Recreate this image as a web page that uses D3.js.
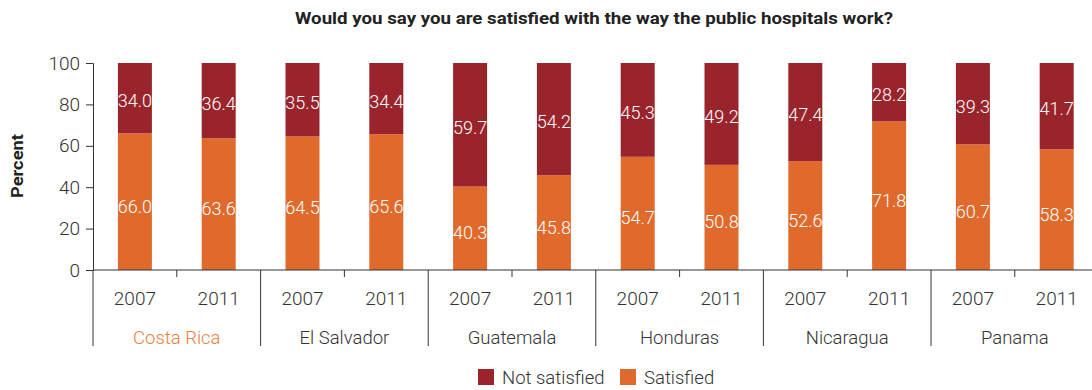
<!DOCTYPE html>
<html><head><meta charset="utf-8">
<script src="https://cdn.jsdelivr.net/npm/d3@7"></script>
<style>body{margin:0;background:#fff}svg{display:block}</style>
</head><body>
<svg id="c" width="1092" height="390"></svg>
<script>
const countries = ["Costa Rica","El Salvador","Guatemala","Honduras","Nicaragua","Panama"];
const years = ["2007","2011"];
const satisfied = [66.0,63.6,64.5,65.6,40.3,45.8,54.7,50.8,52.6,71.8,60.7,58.3];
const notSatisfied = [34.0,36.4,35.5,34.4,59.7,54.2,45.3,49.2,47.4,28.2,39.3,41.7];
const yTicks = [0,20,40,60,80,100];
const seriesNames = ["Not satisfied","Satisfied"];
const colors = {"Not satisfied":"#9a242c","Satisfied":"#e06a2c"};

const font = "Roboto, 'Noto Sans', sans-serif";
const svg = d3.select("#c");
const x0 = 93, groupW = 167.6, y0 = 270, yTop = 63;
const xC = d3.scaleBand().domain(countries).range([x0, x0 + groupW*countries.length]).padding(0);
const xY = d3.scaleBand().domain(years).range([0, xC.bandwidth()]).padding(0);
const y = d3.scaleLinear().domain([0,100]).range([y0, yTop]);
const barW = 34;

const rows = [];
countries.forEach((c,i)=>years.forEach((yr,j)=>{
  const k = i*2+j;
  rows.push({c, yr, sat: satisfied[k], not: notSatisfied[k]});
}));

// title
svg.append("text").attr("x",594).attr("y",24).attr("text-anchor","middle")
  .attr("font-family",font).attr("font-weight","bold").attr("font-size",17).attr("fill","#222")
  .attr("textLength",598).attr("lengthAdjust","spacingAndGlyphs")
  .text("Would you say you are satisfied with the way the public hospitals work?");

// bars
const g = svg.append("g");
rows.forEach(r=>{
  const cx = xC(r.c) + xY(r.yr) + xY.bandwidth()/2;
  g.append("rect").attr("x",cx-barW/2).attr("width",barW)
    .attr("y",y(r.sat)).attr("height",y(0)-y(r.sat)).attr("fill",colors["Satisfied"]);
  g.append("rect").attr("x",cx-barW/2).attr("width",barW)
    .attr("y",y(r.sat+r.not)).attr("height",y(r.sat)-y(r.sat+r.not)).attr("fill",colors["Not satisfied"]);
  g.append("text").attr("x",cx).attr("y",(y(0)+y(r.sat))/2+11).attr("text-anchor","middle")
    .attr("font-family",font).attr("font-weight",300).attr("font-size",18).attr("fill","#fff")
    .text(r.sat.toFixed(1));
  g.append("text").attr("x",cx).attr("y",(y(r.sat)+y(r.sat+r.not))/2+9).attr("text-anchor","middle")
    .attr("font-family",font).attr("font-weight",300).attr("font-size",18).attr("fill","#fff")
    .text(r.not.toFixed(1));
});

// y axis
const ya = svg.append("g").attr("transform",`translate(${x0},0)`)
  .call(d3.axisLeft(y).tickValues(yTicks).tickSize(7).tickPadding(6));
ya.select(".domain").attr("stroke","#333");
ya.selectAll(".tick line").attr("stroke","#333");
ya.selectAll("text").attr("font-family",font).attr("font-size",19).attr("fill","#333").attr("font-weight",300);

svg.append("text").attr("transform","translate(23,166) rotate(-90)").attr("text-anchor","middle")
  .attr("font-family",font).attr("font-weight","bold").attr("font-size",17).attr("fill","#222")
  .attr("textLength",64).attr("lengthAdjust","spacingAndGlyphs").text("Percent");

// x axis line
svg.append("line").attr("x1",x0).attr("x2",1092).attr("y1",y0).attr("y2",y0).attr("stroke","#333");
// group separators
countries.forEach(c=>{
  svg.append("line").attr("x1",xC(c)).attr("x2",xC(c)).attr("y1",y0).attr("y2",346).attr("stroke","#333");
  svg.append("line").attr("x1",xC(c)+xY("2011")).attr("x2",xC(c)+xY("2011")).attr("y1",y0).attr("y2",277).attr("stroke","#333");
  years.forEach(yr=>{
    svg.append("text").attr("x",xC(c)+xY(yr)+xY.bandwidth()/2).attr("y",305).attr("text-anchor","middle")
      .attr("font-family",font).attr("font-weight",300).attr("font-size",19).attr("fill","#333").text(yr);
  });
  svg.append("text").attr("x",xC(c)+xC.bandwidth()/2).attr("y",344).attr("text-anchor","middle")
    .attr("font-family",font).attr("font-weight",300).attr("font-size",18.5)
    .attr("fill", c==="Costa Rica" ? "#e8803f" : "#333").text(c);
});

// legend
const lg = svg.append("g");
const lx = [478, 620];
seriesNames.forEach((s,i)=>{
  lg.append("rect").attr("x",lx[i]).attr("y",369).attr("width",16).attr("height",16).attr("fill",colors[s]);
  lg.append("text").attr("x",lx[i]+24).attr("y",384).attr("font-family",font).attr("font-weight",300)
    .attr("font-size",18.5).attr("fill","#333").text(s);
});
</script>
</body></html>
